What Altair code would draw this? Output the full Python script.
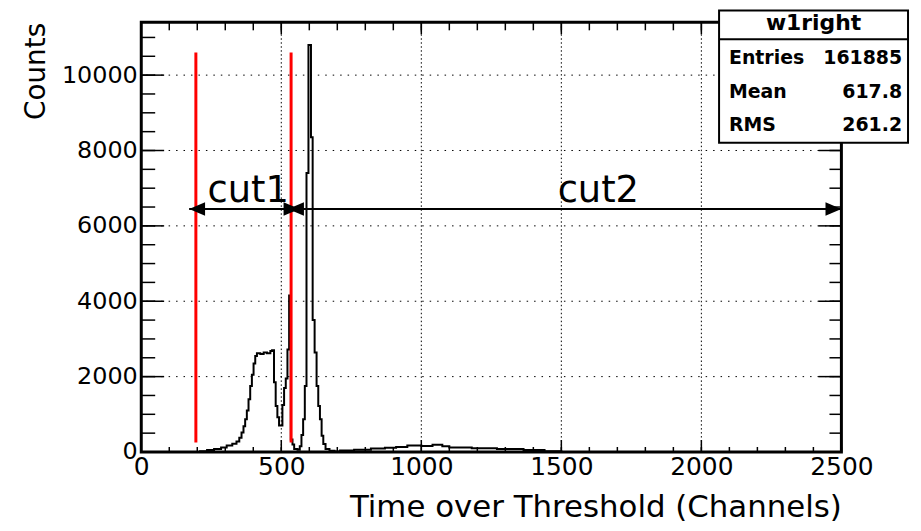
import altair as alt
import pandas as pd

# ---------------- data ----------------
hist_x = [0, 210, 235, 260, 285, 305, 325, 340, 350, 358, 365, 371, 377, 383, 389, 395,
          401, 407, 413, 425, 437, 449, 461, 467, 474, 480, 486, 492, 498, 504, 510,
          516, 522, 528, 534, 540, 546, 558, 566, 572, 578, 584, 590, 597, 606, 612,
          619, 626, 632, 638, 644, 650, 658, 672, 690, 710, 760, 820, 870, 910, 950,
          1000, 1040, 1075, 1100, 1180, 1270, 1365, 1440, 1500, 2500]
hist_y = [0, 20, 50, 80, 120, 170, 220, 280, 380, 520, 680, 870, 1100, 1400, 1750, 2050,
          2350, 2550, 2620, 2600, 2640, 2620, 2680, 2700, 1850, 1220, 920, 700, 700, 1250, 1700,
          1950, 2720, 4150, 330, 200, 80, 60, 150, 450, 870, 1750, 7400, 10800, 8350, 3500,
          2640, 1750, 1220, 870, 430, 210, 80, 30, 15, 40, 60, 90, 110, 130, 170,
          160, 190, 150, 120, 100, 80, 50, 20, 0, 0]

x_major = [0, 500, 1000, 1500, 2000, 2500]
y_major = [0, 2000, 4000, 6000, 8000, 10000]
x_grid = [500, 1000, 1500, 2000]
y_grid = [2000, 4000, 6000, 8000, 10000]
x_minor = list(range(0, 2501, 100))
y_minor = list(range(0, 11001, 500))

cut_lines_x = [195, 535]
cut_lines_lo = [250, 250]
cut_lines_hi = [10600, 10600]

arrow_names = ["cut1", "cut2"]
arrow_from = [171, 524]
arrow_to = [565, 2500]
arrow_level = [6450, 6450]
label_x = [382, 1632]
label_y = [6630, 6630]

stats_title = "w1right"
stats_names = ["Entries", "Mean", "RMS"]
stats_values = ["161885", "617.8", "261.2"]

X_DOMAIN = [0, 2500]
Y_DOMAIN = [0, 11400]

# ---------------- layout ----------------
W, H = 704, 432
FONT = "DejaVu Sans"

xs = alt.Scale(domain=X_DOMAIN, nice=False, zero=False)
ys = alt.Scale(domain=Y_DOMAIN, nice=False, zero=False)

hist = pd.DataFrame({"x": hist_x, "y": hist_y})

hist_layer = alt.Chart(hist).mark_line(interpolate="step-after", color="black",
                                       strokeWidth=2).encode(
    x=alt.X("x:Q", scale=xs,
            axis=alt.Axis(values=x_major, format="d", ticks=False, domain=False, grid=False,
                          orient="bottom",
                          labelFont=FONT, labelFontSize=25, labelColor="black",
                          labelPadding=3, labelFlush=False, labelOverlap=False,
                          title="Time over Threshold (Channels)", titleFont=FONT,
                          titleFontSize=31, titleFontWeight="normal", titleColor="black",
                          titleAlign="right", titleBaseline="alphabetic",
                          titleX=W, titleY=65)),
    y=alt.Y("y:Q", scale=ys,
            axis=alt.Axis(values=y_major, format="d", ticks=False, domain=False, grid=False,
                          orient="left",
                          labelFont=FONT, labelFontSize=24, labelColor="black",
                          labelPadding=4, labelOverlap=False, labelFlush=False,
                          title="Counts", titleFont=FONT, titleFontSize=28,
                          titleFontWeight="normal", titleColor="black",
                          titleAngle=270, titleAlign="right", titleBaseline="alphabetic",
                          titleX=-97, titleY=0)),
)

gx = alt.Chart(pd.DataFrame({"x": x_grid})).mark_rule(
    color="black", strokeWidth=1, strokeDash=[1.5, 2.5]).encode(
    x=alt.X("x:Q", scale=xs, axis=None))
gy = alt.Chart(pd.DataFrame({"y": y_grid})).mark_rule(
    color="black", strokeWidth=1, strokeDash=[1.5, 6]).encode(
    y=alt.Y("y:Q", scale=ys, axis=None))


def xticks(values, y0, y1):
    return alt.Chart(pd.DataFrame({"x": values})).mark_rule(
        color="black", strokeWidth=1.5).encode(
        x=alt.X("x:Q", scale=xs, axis=None), y=alt.value(y0), y2=alt.value(y1))


def yticks(values, x0, x1):
    return alt.Chart(pd.DataFrame({"y": values})).mark_rule(
        color="black", strokeWidth=1.5).encode(
        y=alt.Y("y:Q", scale=ys, axis=None), x=alt.value(x0), x2=alt.value(x1))


ticks = [
    xticks(x_minor, H, H - 5), xticks(x_major, H, H - 12),
    xticks(x_minor, 0, 8), xticks(x_major, 0, 12),
    yticks(y_minor, 0, 14), yticks(y_major, 0, 23),
    yticks(y_minor, W, W - 12), yticks(y_major, W, W - 23),
]

cuts = pd.DataFrame({"x": cut_lines_x, "lo": cut_lines_lo, "hi": cut_lines_hi})
red = alt.Chart(cuts).mark_rule(color="#ff0000", strokeWidth=3).encode(
    x=alt.X("x:Q", scale=xs, axis=None),
    y=alt.Y("lo:Q", scale=ys, axis=None), y2="hi:Q")

arr = pd.DataFrame({"name": arrow_names, "a": arrow_from, "b": arrow_to, "y": arrow_level})
arrow_lines = alt.Chart(arr).mark_rule(color="black", strokeWidth=2).encode(
    x=alt.X("a:Q", scale=xs, axis=None), x2="b:Q",
    y=alt.Y("y:Q", scale=ys, axis=None))
head_right = alt.Chart(arr).mark_point(
    shape="M0,0L-2,-0.85L-2,0.85Z", filled=True, size=256, color="black", opacity=1).encode(
    x=alt.X("b:Q", scale=xs, axis=None), y=alt.Y("y:Q", scale=ys, axis=None))
head_left = alt.Chart(arr).mark_point(
    shape="M0,0L2,-0.85L2,0.85Z", filled=True, size=256, color="black", opacity=1).encode(
    x=alt.X("a:Q", scale=xs, axis=None), y=alt.Y("y:Q", scale=ys, axis=None))

labs = pd.DataFrame({"name": arrow_names, "x": label_x, "y": label_y})
cut_text = alt.Chart(labs).mark_text(font=FONT, fontSize=37, color="black",
                                     align="center", baseline="alphabetic").encode(
    x=alt.X("x:Q", scale=xs, axis=None), y=alt.Y("y:Q", scale=ys, axis=None),
    text="name:N")

# statistics box (pixel-positioned legend-like panel)
BX0, BX1, BY0, BY1, BDIV = 581, 771, -12, 121, 17
ROW_BASE = [42, 76, 109]
box = alt.Chart(pd.DataFrame({"k": [0]})).mark_rect(
    fill="white", stroke="black", strokeWidth=2).encode(
    x=alt.value(BX0), x2=alt.value(BX1), y=alt.value(BY0), y2=alt.value(BY1))
divider = alt.Chart(pd.DataFrame({"k": [0]})).mark_rule(
    color="black", strokeWidth=2).encode(
    x=alt.value(BX0), x2=alt.value(BX1), y=alt.value(BDIV))
title_txt = alt.Chart(pd.DataFrame({"t": [stats_title]})).mark_text(
    font=FONT, fontSize=22, fontWeight="bold", color="black", align="center",
    baseline="alphabetic").encode(
    x=alt.value((BX0 + BX1) / 2), y=alt.value(8), text="t:N")

stat_layers = []
for i, (nm, vl) in enumerate(zip(stats_names, stats_values)):
    d = pd.DataFrame({"name": [nm], "val": [vl]})
    stat_layers.append(alt.Chart(d).mark_text(
        font=FONT, fontSize=19, fontWeight="bold", color="black", align="left",
        baseline="alphabetic").encode(x=alt.value(591), y=alt.value(ROW_BASE[i]),
                                      text="name:N"))
    stat_layers.append(alt.Chart(d).mark_text(
        font=FONT, fontSize=19, fontWeight="bold", color="black", align="right",
        baseline="alphabetic").encode(x=alt.value(765), y=alt.value(ROW_BASE[i]),
                                      text="val:N"))

chart = alt.layer(
    hist_layer, gx, gy, *ticks, red, arrow_lines, head_right,
    head_left, cut_text, box, divider, title_txt, *stat_layers
).resolve_scale(x="shared", y="shared").resolve_axis(
    x="independent", y="independent"
).properties(
    width=W, height=H,
    autosize=alt.AutoSizeParams(type="none"),
    padding={"left": 134, "top": 13, "right": 72, "bottom": 78},
).configure_view(stroke="black", strokeWidth=3)

chart.save("out.html", embed_options={"renderer": "svg", "actions": False})
